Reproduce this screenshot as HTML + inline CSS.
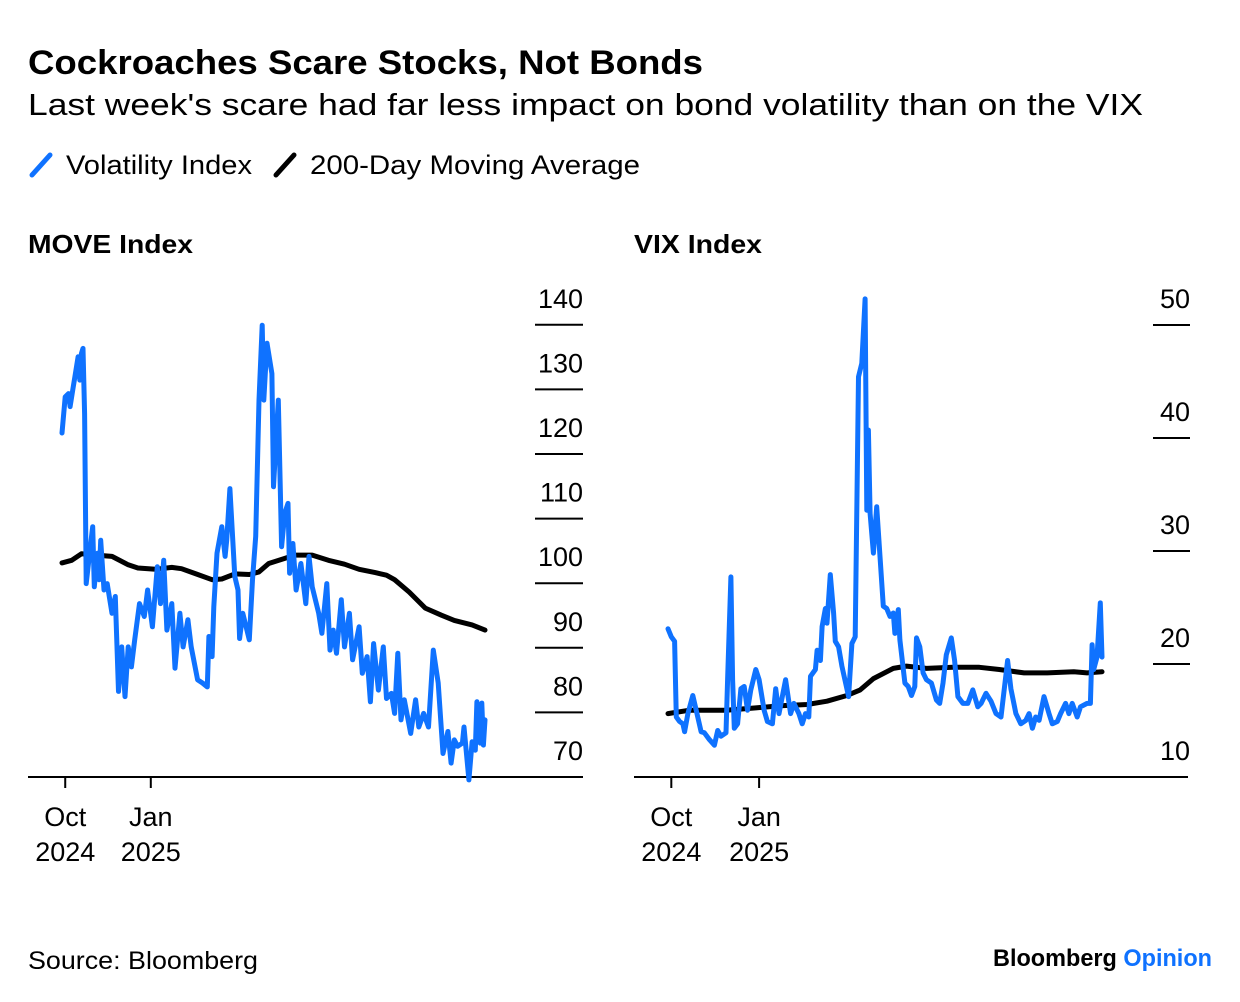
<!DOCTYPE html>
<html><head><meta charset="utf-8"><style>
body{margin:0;background:#fff;width:1240px;height:1002px;overflow:hidden;font-family:"Liberation Sans",sans-serif}
svg{display:block}
</style></head><body>
<svg id="s" width="1240" height="1002" font-family="Liberation Sans, sans-serif">
<text x="28" y="74" font-size="34" font-weight="bold" fill="#000" textLength="675" lengthAdjust="spacingAndGlyphs">Cockroaches Scare Stocks, Not Bonds</text>
<text x="28" y="115" font-size="31" fill="#000" textLength="1115" lengthAdjust="spacingAndGlyphs">Last week's scare had far less impact on bond volatility than on the VIX</text>
<g>
<line x1="32" y1="175" x2="50" y2="155" stroke="#0f72ff" stroke-width="5" stroke-linecap="round"/>
<text x="66" y="174" font-size="27" textLength="186" lengthAdjust="spacingAndGlyphs">Volatility Index</text>
<line x1="276" y1="175" x2="294" y2="155" stroke="#000" stroke-width="5" stroke-linecap="round"/>
<text x="310" y="174" font-size="27" textLength="330" lengthAdjust="spacingAndGlyphs">200-Day Moving Average</text>
</g>
<text x="28" y="253" font-size="26" font-weight="bold" textLength="165" lengthAdjust="spacingAndGlyphs">MOVE Index</text>
<text x="634" y="253" font-size="26" font-weight="bold" textLength="128" lengthAdjust="spacingAndGlyphs">VIX Index</text>
<text x="28" y="969" font-size="25" textLength="230" lengthAdjust="spacingAndGlyphs">Source: Bloomberg</text>
<text x="993" y="966" font-size="24" font-weight="bold" textLength="219" lengthAdjust="spacingAndGlyphs">Bloomberg <tspan fill="#0f72ff">Opinion</tspan></text>
<g id="gm"></g>
<g id="gv"></g>
</svg>
<script>
// ---- MOVE data (trading-day index since Sep 30 2024) ----
const moveDays=[0,2,4,5,7,8,10,11,12,13,14,15,18,19,20,22,23,24,26,28,31,33,35,37,39,41,43,45,48,51,53,56,59,61,63,65,68,70,73,75,78,80,84,87,90,91,93,94,96,99,101,102,104,107,109,110,112,116,118,120,122,124,125,127,130,131,134,136,138,140,141,143,145,148,151,153,155,159,161,164,166,168,170,173,175,178,180,184,186,189,191,193,196,199,201,204,206,208,210,212,216,219,221,224,227,230,233,236,239,241,243,245,248,249,252,254,256,257,259,260,261,262];
const moveVals=[123.4,129.0,129.5,127.5,130.6,132.1,135.2,131.6,135.7,136.5,126.4,100.1,106.8,108.9,99.6,104.8,100.7,106.8,99.1,100.1,95.5,98.1,83.4,90.3,82.6,90.3,87.2,91.4,97.0,95.0,99.1,93.4,102.7,97.0,103.7,92.9,97.0,87.0,95.5,90.3,94.5,90.3,85.2,84.7,84.1,91.9,88.8,96.5,104.8,108.9,104.3,106.8,114.8,101.2,99.1,91.6,95.5,91.4,100.7,107.4,128.5,140.1,128.5,137.3,132.6,115.1,128.5,105.8,111.0,112.5,101.7,106.3,99.1,103.2,97.0,104.3,99.6,95.5,92.4,100.1,89.8,92.9,89.3,97.6,90.3,95.5,88.3,93.4,86.2,88.8,81.8,90.8,83.6,90.3,82.3,83.1,80.0,89.3,79.0,82.1,76.9,82.1,77.9,80.0,77.9,89.8,84.7,73.8,77.2,72.3,75.9,74.9,75.4,77.9,69.7,75.6,74.3,81.8,75.4,81.6,75.1,79.0];
const moveMaDays=[0,6,12,21,31,41,47,58,68,74,83,93,99,107,116,122,128,138,144,155,165,175,184,194,201,206,215,225,235,243,254,262];
const moveMaVals=[103.3,103.7,104.7,104.5,104.3,103.0,102.5,102.3,102.6,102.4,101.6,100.7,100.8,101.6,101.5,101.9,103.2,104.0,104.5,104.5,103.7,103.1,102.3,101.8,101.4,100.7,98.8,96.3,95.2,94.4,93.7,92.9];
const moveTicks=[70,80,90,100,110,120,130,140];
// ---- VIX data ----
const vixDays=[0,2,4,5,7,9,10,12,15,17,20,22,25,28,30,32,35,36,38,39,40,42,44,46,48,50,53,55,58,60,63,65,67,71,74,76,79,81,83,85,86,89,90,92,93,95,96,98,100,101,103,105,109,111,113,115,117,119,120,121,122,124,126,128,130,132,134,136,137,139,140,143,145,147,149,150,152,154,156,159,162,164,166,168,171,173,175,178,181,184,187,189,192,195,198,201,205,207,210,213,216,218,220,222,224,227,230,232,235,237,240,242,244,247,249,253,255,256,257,259,261,262];
const vixVals=[23.2,22.5,22.1,15.4,15.0,14.8,14.1,15.7,17.3,16.0,14.1,14.0,13.4,12.9,14.2,13.7,14.0,18.7,27.8,18.7,14.4,14.8,17.9,18.1,16.0,17.8,19.6,18.7,16.0,15.0,14.8,17.9,15.7,18.7,15.7,16.6,15.7,14.8,15.7,15.4,19.0,19.6,21.3,20.4,23.4,25.0,23.7,28.0,24.6,22.1,21.6,19.9,17.2,21.9,22.5,45.5,46.7,52.4,33.7,40.8,33.4,29.9,34.0,29.6,25.2,25.0,24.3,24.6,22.8,24.9,22.2,18.4,18.1,17.3,18.1,22.4,21.6,19.3,18.7,18.4,16.9,16.6,18.4,20.9,22.4,20.4,17.2,16.6,16.6,17.8,16.3,16.6,17.5,16.8,15.7,15.4,20.4,17.9,15.7,14.8,15.1,15.7,14.4,15.4,15.1,17.2,15.7,14.8,15.0,15.7,16.6,15.7,16.6,15.4,16.3,16.6,16.6,21.8,19.6,20.7,25.5,20.7];
const vixMaDays=[0,13,35,53,68,84,96,108,116,124,136,144,156,172,188,200,215,229,245,253,262];
const vixMaVals=[15.7,16.0,16.0,16.2,16.4,16.5,16.8,17.3,17.8,18.8,19.7,19.9,19.7,19.8,19.8,19.6,19.3,19.3,19.4,19.3,19.4];
const vixTicks=[10,20,30,40,50];
const xTickDays=[2,55];
const xTickMonths=["Oct","Jan"];
const xTickYears=["2024","2025"];

const NS="http://www.w3.org/2000/svg";
function mk(g,tag,attrs){const e=document.createElementNS(NS,tag);for(const k in attrs)e.setAttribute(k,attrs[k]);g.appendChild(e);return e;}
function panel(g,o){
  const xs=d=>o.x0+(o.x1-o.x0)*d/262;
  const ys=v=>o.yBase-(v-o.vmin)*o.ppu;
  o.ticks.forEach(t=>{
    const y=ys(t);
    if(t!==o.vmin){const l=mk(g,'line',{x1:o.gx0,x2:o.gx1,y1:y-1,y2:y-1,stroke:'#000','stroke-width':2});
    
    }
    const tx=mk(g,'text',{x:o.gx1,y:y-18,'font-size':27,'text-anchor':'end'});tx.textContent=t;
    
    
  });
  const ax=mk(g,'line',{x1:o.ax0,x2:o.ax1,y1:o.yBase-1,y2:o.yBase-1,stroke:'#000','stroke-width':2});
  
  
  xTickDays.forEach((d,i)=>{
    const x=xs(d);
    const tk=mk(g,'line',{x1:x,x2:x,y1:o.yBase,y2:o.yBase+10,stroke:'#000','stroke-width':2});
    
    
    const a=mk(g,'text',{x:x,y:o.yBase+48,'font-size':27,'text-anchor':'middle'});a.textContent=xTickMonths[i];
    
    
    const b=mk(g,'text',{x:x,y:o.yBase+83,'font-size':27,'text-anchor':'middle'});b.textContent=xTickYears[i];
    
    
  });
  const path=(ds,vs)=>ds.map((d,i)=>(i?'L':'M')+xs(d).toFixed(1)+' '+ys(vs[i]).toFixed(1)).join(' ');
  const ma=mk(g,'path',{d:path(o.maD,o.maV),fill:'none',stroke:'#000','stroke-width':5,'stroke-linejoin':'round','stroke-linecap':'round'});
  
  
  const ln=mk(g,'path',{d:path(o.d,o.v),fill:'none',stroke:'#0f72ff','stroke-width':5,'stroke-linejoin':'round','stroke-linecap':'round'});
  
  
}
panel(document.getElementById('gm'),{name:'move',x0:62,x1:485,yBase:778,vmin:70,ppu:6.46,gx0:535,gx1:583,ax0:28,ax1:583,ticks:moveTicks,d:moveDays,v:moveVals,maD:moveMaDays,maV:moveMaVals});
panel(document.getElementById('gv'),{name:'vix',x0:668,x1:1102,yBase:778,vmin:10,ppu:11.3,gx0:1153,gx1:1190,ax0:634,ax1:1188,ticks:vixTicks,d:vixDays,v:vixVals,maD:vixMaDays,maV:vixMaVals});
</script>
</body></html>
